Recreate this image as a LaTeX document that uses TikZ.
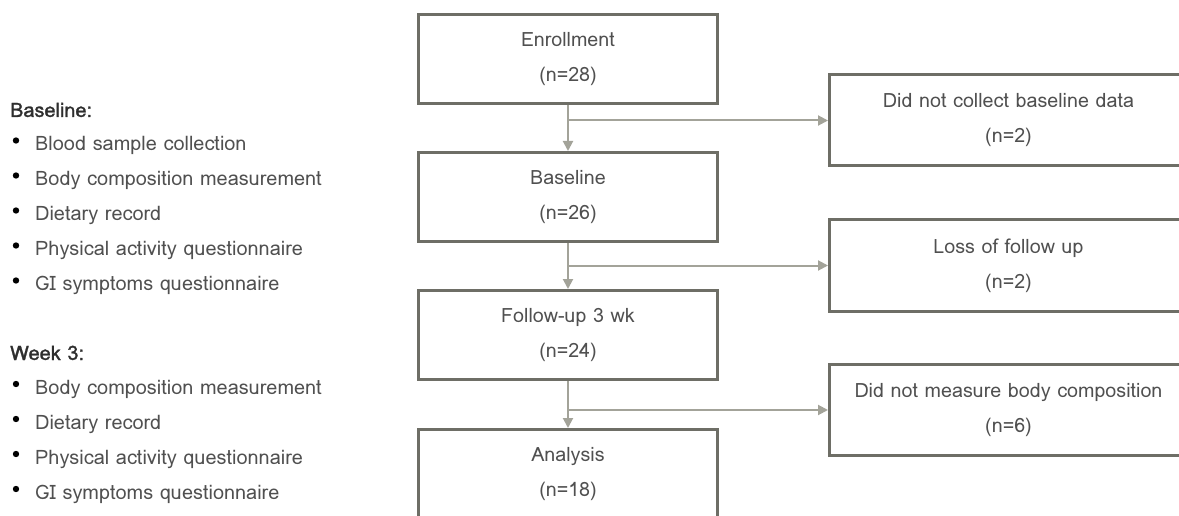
\documentclass[tikz,border=0pt]{standalone}
\usepackage{fontspec}
\setmainfont{Loma}
\newfontfamily\headfont[FakeBold=1.2]{Loma}
\usetikzlibrary{arrows.meta}
\definecolor{boxline}{HTML}{6E6E66}
\definecolor{arrowc}{HTML}{A3A399}
\definecolor{txt}{HTML}{505050}
\definecolor{head}{HTML}{2E2E2E}
\begin{document}
\begin{tikzpicture}[x=1pt,y=-1pt,
  flowbox/.style={draw=boxline, line width=3pt, minimum width=299pt, minimum height=89pt,
    inner sep=0pt, text=txt, align=center, font=\fontsize{19.7}{35}\selectfont},
  sidebox/.style={flowbox, minimum width=358pt, minimum height=91pt, anchor=west},
  arrline/.style={draw=arrowc, line width=2pt},
  arr/.style={arrline, -{Triangle[length=10pt,width=10pt]}},
  listtxt/.style={anchor=base west, inner sep=0pt, text=txt, font=\fontsize{19.9}{22}\selectfont},
  headtxt/.style={anchor=base west, inner sep=0pt, text=head, font=\headfont\fontsize{19.9}{22}\selectfont},
  bullet/.style={fill=black}]
\clip (0,0) rectangle (1179,516);
\fill[white] (0,0) rectangle (1179,516);

% main flow
\node[flowbox] (enroll) at (568,59) {Enrollment\\(n=28)};
\node[flowbox] (base) at (568,197) {Baseline\\(n=26)};
\node[flowbox] (follow) at (568,335) {Follow-up 3 wk\\(n=24)};
\node[flowbox] (anal) at (568,474) {Analysis\\(n=18)};

% side boxes
\node[sidebox] (r1) at (828,120.5) {Did not collect baseline data\\(n=2)};
\node[sidebox] (r2) at (828,265.5) {Loss of follow up\\(n=2)};
\node[sidebox] (r3) at (828,410) {Did not measure body composition\\(n=6)};

% connectors
\coordinate (j1) at (enroll.south |- r1.west);
\coordinate (j2) at (base.south |- r2.west);
\coordinate (j3) at (follow.south |- r3.west);
\draw[arr] (enroll.south) -- (base.north);
\draw[arr] (j1) -- (r1.west);
\draw[arr] (base.south) -- (follow.north);
\draw[arr] (j2) -- (r2.west);
\draw[arr] (follow.south) -- (anal.north);
\draw[arr] (j3) -- (r3.west);

% left list
\node[headtxt] (hb) at (10,117) {Baseline:};
\foreach \t/\yy [count=\i] in {Blood sample collection/150.5, Body composition measurement/185.5,
  Dietary record/220.5, Physical activity questionnaire/255.5, GI symptoms questionnaire/290.5}{
  \node[listtxt] (b\i) at (35,\yy) {\t};
  \fill[bullet] (16,\yy-10) circle (3.2pt);
}
\node[headtxt] (hw) at (10,360) {Week 3:};
\foreach \t/\yy [count=\i] in {Body composition measurement/394, Dietary record/429,
  Physical activity questionnaire/464, GI symptoms questionnaire/499}{
  \node[listtxt] (w\i) at (35,\yy) {\t};
  \fill[bullet] (16,\yy-10) circle (3.2pt);
}
\end{tikzpicture}
\end{document}
